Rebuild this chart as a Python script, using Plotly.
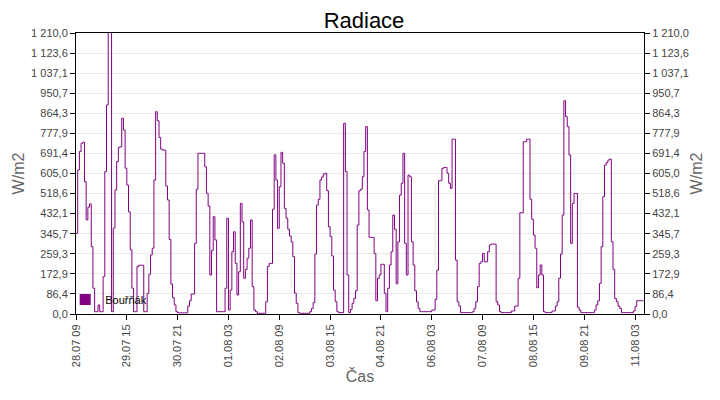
import pandas as pd
import plotly.graph_objs as go

# Hourly radiation from station "Bouřňák", starting 28.07 09:00 (one row = 24 hours)
start_time = "2021-07-28 09:00"
radiace = [
    347, 620, 700, 735, 740, 570, 405, 460, 474, 290, 111, 10, 10, 39, 10, 10, 161, 613, 900, 1260, 1260, 10, 370, 534,
    656, 718, 720, 843, 792, 628, 555, 440, 276, 111, 10, 10, 204, 210, 210, 210, 10, 10, 89, 171, 254, 283, 577, 871,
    832, 760, 710, 706, 706, 551, 491, 321, 129, 70, 39, 10, 5, 5, 5, 5, 5, 5, 34, 57, 86, 86, 304, 537,
    692, 692, 692, 692, 634, 520, 465, 168, 273, 419, 319, 10, 10, 10, 10, 10, 111, 412, 17, 103, 268, 354, 218, 82,
    182, 476, 397, 154, 192, 240, 283, 405, 118, 17, 10, 0, 3, 3, 3, 3, 53, 204, 218, 218, 451, 685, 577, 369,
    548, 696, 649, 455, 412, 365, 336, 310, 247, 90, 46, 6, 3, 3, 3, 3, 3, 3, 10, 24, 49, 258, 469, 494,
    577, 590, 603, 606, 531, 376, 333, 250, 103, 53, 10, 6, 6, 6, 821, 613, 168, 6, 20, 46, 67, 100, 383, 531,
    537, 591, 700, 807, 448, 330, 330, 330, 261, 57, 154, 168, 214, 214, 89, 10, 111, 211, 268, 426, 365, 130, 311, 512,
    563, 692, 304, 168, 598, 591, 311, 211, 100, 53, 24, 10, 10, 10, 10, 10, 10, 10, 17, 17, 63, 189, 574, 574,
    627, 631, 631, 606, 563, 541, 753, 753, 232, 53, 34, 6, 6, 6, 6, 6, 6, 6, 10, 24, 53, 118, 218, 225,
    261, 225, 225, 268, 297, 301, 301, 301, 53, 39, 10, 6, 6, 6, 6, 6, 6, 13, 13, 34, 34, 154, 436, 436,
    742, 742, 753, 753, 494, 408, 340, 283, 113, 168, 211, 168, 10, 6, 6, 6, 6, 13, 13, 34, 53, 154, 258, 426,
    918, 850, 807, 685, 304, 476, 519, 519, 29, 17, 6, 6, 6, 6, 6, 6, 6, 6, 17, 39, 57, 132, 290, 505,
    641, 652, 663, 667, 311, 192, 67, 53, 34, 24, 6, 6, 6, 6, 6, 6, 6, 13, 32, 57, 57, 57, 57, 57,
]

# X axis ticks (every 30 hours)
x_tick_times = ["2021-07-28 09:00", "2021-07-29 15:00", "2021-07-30 21:00", "2021-08-01 03:00",
                "2021-08-02 09:00", "2021-08-03 15:00", "2021-08-04 21:00", "2021-08-06 03:00",
                "2021-08-07 09:00", "2021-08-08 15:00", "2021-08-09 21:00", "2021-08-11 03:00"]
x_tick_labels = ["28.07 09", "29.07 15", "30.07 21", "01.08 03", "02.08 09", "03.08 15",
                 "04.08 21", "06.08 03", "07.08 09", "08.08 15", "09.08 21", "11.08 03"]
x_end = "2021-08-11 08:18"

# Y axis ticks (0 .. 1210 in 14 steps)
y_max = 1210.0
y_tick_vals = [y_max * i / 14 for i in range(15)]
y_tick_labels = ["0,0", "86,4", "172,9", "259,3", "345,7", "432,1", "518,6", "605,0",
                 "691,4", "777,9", "864,3", "950,7", "1 037,1", "1 123,6", "1 210,0"]

times = pd.date_range(start_time, periods=len(radiace), freq="h")
purple = "#800080"
font_name = "Liberation Sans, Arial, sans-serif"

data = [
    go.Scatter(x=times, y=radiace, mode="lines", line=dict(color=purple, width=1, shape="hv"),
               name="Bouřňák", showlegend=False),
    # same series on the right axis, invisible, so the right axis gets drawn
    go.Scatter(x=times, y=radiace, mode="lines", line=dict(color="rgba(0,0,0,0)", width=0),
               yaxis="y2", showlegend=False, hoverinfo="skip"),
    # legend entry with a square symbol
    go.Scatter(x=[None], y=[None], mode="markers", name="Bouřňák",
               marker=dict(symbol="square", size=11, color=purple)),
]

y_common = dict(range=[0, y_max], tickmode="array", tickvals=y_tick_vals, ticktext=y_tick_labels,
                ticks="outside", ticklen=5, tickcolor="black", showline=True, linecolor="black",
                linewidth=1, zeroline=False, tickfont=dict(size=11, color="#444"), automargin=False,
                title=dict(text="W/m2", font=dict(size=16, color="#666"), standoff=2), fixedrange=True)

# the page body has an 8px margin, so the figure is a bit smaller than the 720x400 window
layout = go.Layout(
    width=712, height=392,
    margin=dict(l=68, r=76, t=25, b=86),
    paper_bgcolor="white", plot_bgcolor="white",
    font=dict(family=font_name),
    title=dict(text="Radiace", x=0.5, xanchor="center", y=0.969, yref="container", yanchor="middle",
               font=dict(size=22, color="black")),
    xaxis=dict(range=[start_time, x_end], tickmode="array", tickvals=x_tick_times, ticktext=x_tick_labels,
               tickangle=-90, ticks="outside", ticklen=5, tickcolor="black", showgrid=False,
               showline=True, linecolor="black", linewidth=1, mirror=True, zeroline=False,
               tickfont=dict(size=11, color="#444"), automargin=False,
               title=dict(text="Čas", font=dict(size=16, color="#666"), standoff=4)),
    yaxis=dict(y_common, side="left", showgrid=True, gridcolor="#ebebeb", gridwidth=1),
    yaxis2=dict(y_common, side="right", overlaying="y", showgrid=False),
    legend=dict(x=-0.019, y=0, xanchor="left", yanchor="bottom", bgcolor="rgba(0,0,0,0)",
                font=dict(size=11, color="black")),
    showlegend=True,
)

fig = go.Figure(data=data, layout=layout)
fig.write_html("out.html")
